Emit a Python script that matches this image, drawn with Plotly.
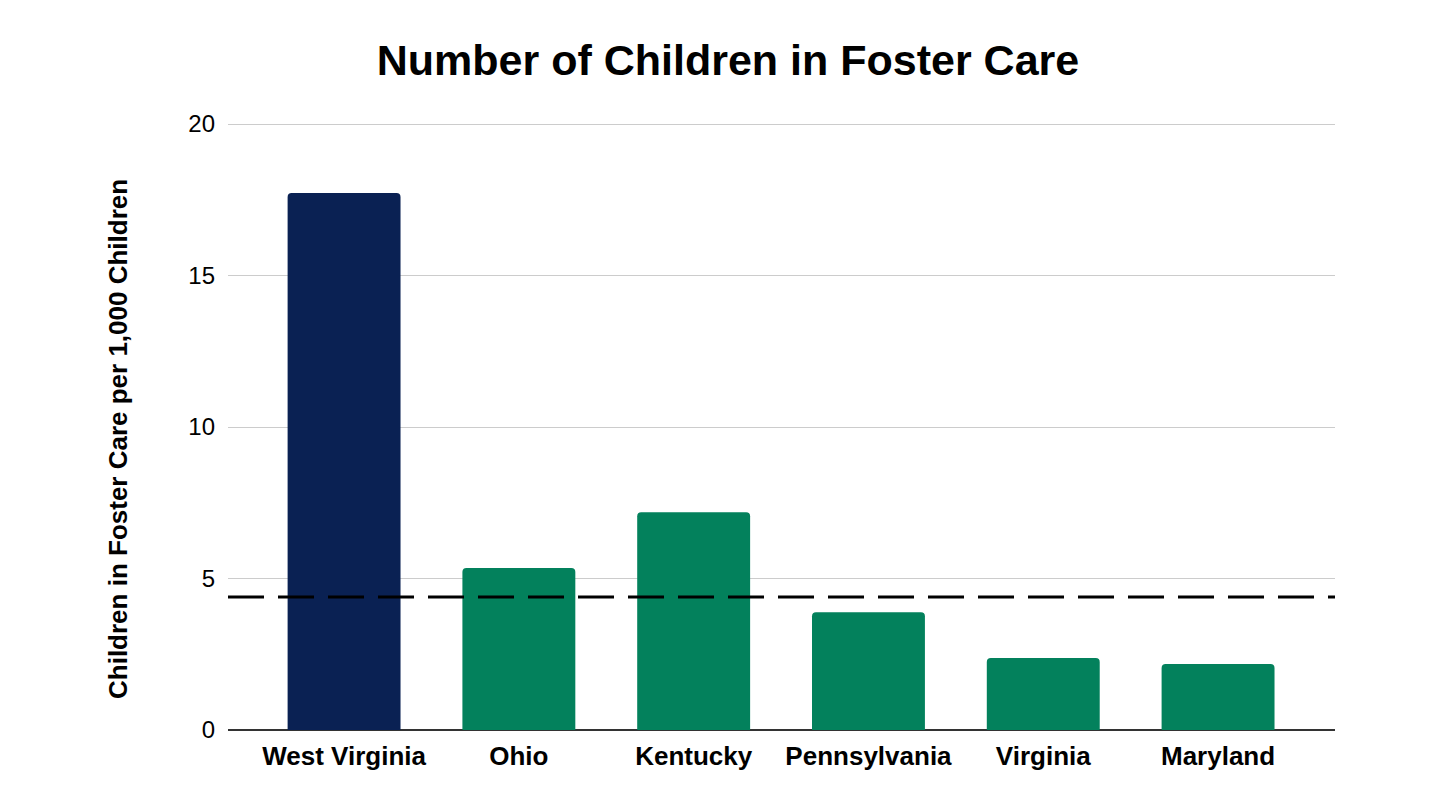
import plotly.graph_objects as go

states = ["West Virginia", "Ohio", "Kentucky", "Pennsylvania", "Virginia", "Maryland"]
rates = [17.72, 5.35, 7.19, 3.89, 2.38, 2.18]
bar_colors = ["#0a2153", "#03815c", "#03815c", "#03815c", "#03815c", "#03815c"]
national_avg = 4.39
y_ticks = [0, 5, 10, 15, 20]

FONT = "Liberation Sans, Arial, sans-serif"

L, R, T, B = 220, 113, 113, 88
W, H = 1440, 810
plot_w = W - L - R
plot_h = H - T - B

fig = go.Figure()
fig.add_trace(go.Bar(
    x=states, y=rates, marker=dict(color=bar_colors, line=dict(width=0)),
    width=0.646, showlegend=False, hoverinfo="x+y",
))
fig.add_shape(type="line", xref="paper", yref="y", x0=0, x1=1,
              y0=national_avg, y1=national_avg,
              line=dict(color="#000000", width=3, dash="36px,14px"))

fig.add_annotation(
    text="<b>Children in Foster Care per 1,000 Children</b>",
    xref="paper", yref="paper",
    x=(110 - L) / plot_w, y=(H - B - 431) / plot_h,
    xanchor="center", yanchor="middle", textangle=-90, showarrow=False,
    font=dict(family=FONT, size=26, color="#000000"),
)

fig.update_layout(
    width=W, height=H,
    paper_bgcolor="white", plot_bgcolor="white",
    margin=dict(l=L, r=R, t=T, b=B),
    barcornerradius=4,
    title=dict(text="<b>Number of Children in Foster Care</b>", x=0.5, xanchor="center",
               y=0.936, yanchor="middle",
               font=dict(family=FONT, size=43, color="#000000")),
    font=dict(family=FONT, color="#000000"),
)
fig.update_xaxes(
    range=[-0.664, 5.669], showgrid=False, showline=False, zeroline=False,
    tickfont=dict(family=FONT, size=26, color="#000000", weight="bold"),
    ticks="", ticklabelstandoff=8,
)
fig.update_yaxes(
    range=[0, 20.1], tickvals=y_ticks, showgrid=True, gridcolor="#cccccc", gridwidth=1.3,
    zeroline=True, zerolinecolor="#333333", zerolinewidth=1.6, showline=False,
    tickfont=dict(family=FONT, size=24, color="#000000"), ticks="", ticklabelstandoff=12,
)

fig.write_html("out.html")
